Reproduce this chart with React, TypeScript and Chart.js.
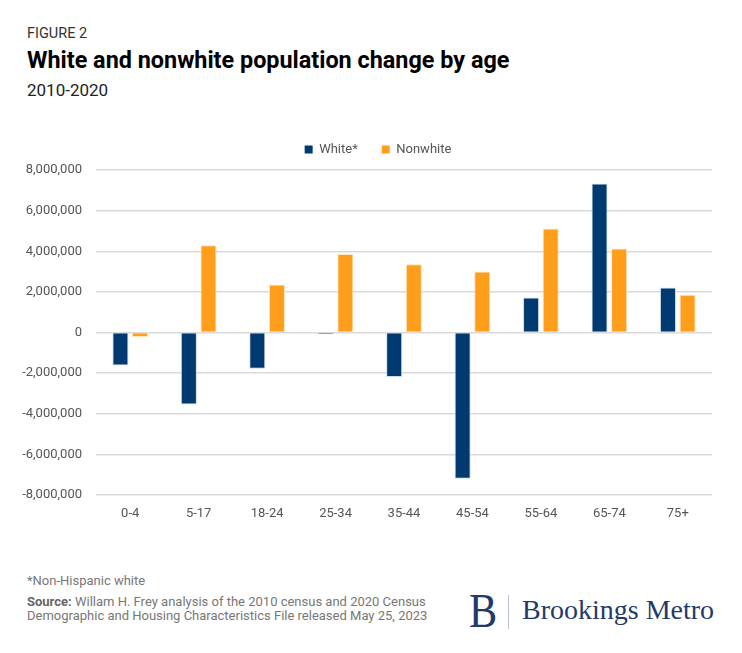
import React, { useEffect, useRef } from "react";
import { Chart, registerables } from "chart.js";

Chart.register(...registerables);

const categories = ["0-4", "5-17", "18-24", "25-34", "35-44", "45-54", "55-64", "65-74", "75+"];
const whiteValues = [-1630000, -3550000, -1780000, -90000, -2190000, -7200000, 1720000, 7340000, 2220000];
const nonwhiteValues = [-220000, 4290000, 2360000, 3860000, 3360000, 3000000, 5120000, 4140000, 1860000];
const seriesNames = ["White*", "Nonwhite"];
const yMin = -8000000;
const yMax = 8000000;
const yStep = 2000000;

const NAVY = "#003A70";
const ORANGE = "#FF9E1B";
const FONT = "Roboto";

const legendSpacer = {
  id: "legendSpacer",
  afterInit(chart: any) {
    const legend = chart.legend;
    if (!legend) return;
    const origFit = legend.fit;
    legend.fit = function () {
      origFit.call(this);
      this.height += 4;
    };
    const origDraw = legend.draw;
    legend.draw = function () {
      this.left += 22;
      this.right += 22;
      origDraw.call(this);
      this.left -= 22;
      this.right -= 22;
    };
  },
};

export default function App() {
  const canvasRef = useRef<HTMLCanvasElement | null>(null);

  useEffect(() => {
    const canvas = canvasRef.current;
    if (!canvas) return;
    const chart = new Chart(canvas, {
      type: "bar",
      data: {
        labels: categories,
        datasets: [
          {
            label: seriesNames[0],
            data: whiteValues,
            backgroundColor: NAVY,
            borderColor: "rgba(200,215,230,0.9)",
            borderWidth: 1,
            categoryPercentage: 0.573,
            barPercentage: 0.82,
          },
          {
            label: seriesNames[1],
            data: nonwhiteValues,
            backgroundColor: ORANGE,
            borderColor: "rgba(255,225,180,0.9)",
            borderWidth: 1,
            categoryPercentage: 0.573,
            barPercentage: 0.82,
          },
        ],
      },
      plugins: [legendSpacer],
      options: {
        animation: false,
        responsive: false,
        maintainAspectRatio: false,
        layout: { padding: { top: 7, right: 30, left: 0, bottom: 0 } },
        plugins: {
          tooltip: { enabled: false },
          legend: {
            position: "top",
            labels: {
              boxWidth: 8,
              boxHeight: 8,
              padding: 24,
              color: "#555555",
              font: { family: FONT, size: 13 },
              generateLabels: (ch: any) =>
                ch.data.datasets.map((ds: any, i: number) => ({
                  text: ds.label,
                  fillStyle: ds.backgroundColor,
                  strokeStyle: ds.backgroundColor,
                  lineWidth: 0,
                  fontColor: "#555555",
                  hidden: false,
                  datasetIndex: i,
                })),
            },
          },
        },
        scales: {
          x: {
            grid: { display: false, drawTicks: false },
            border: { display: false },
            ticks: {
              color: "#555555",
              font: { family: FONT, size: 13 },
              padding: 11,
              maxRotation: 0,
            },
            afterFit: (scale: any) => {
              scale.height = 40;
            },
          },
          y: {
            min: yMin,
            max: yMax,
            grid: { color: "#d9d9d9", lineWidth: 1.5, drawTicks: false },
            border: { display: false },
            ticks: {
              stepSize: yStep,
              color: "#555555",
              font: { family: FONT, size: 13 },
              padding: 14,
              callback: (v: any) => Number(v).toLocaleString("en-US"),
            },
            afterFit: (scale: any) => {
              scale.width = 96;
            },
          },
        },
      },
    });
    return () => chart.destroy();
  }, []);

  const abs = (top: number, left: number, extra: React.CSSProperties = {}): React.CSSProperties => ({
    position: "absolute",
    top,
    left,
    margin: 0,
    whiteSpace: "nowrap",
    ...extra,
  });

  return (
    <div
      style={{
        position: "absolute",
        top: 0,
        left: 0,
        width: 742,
        height: 653,
        background: "#ffffff",
        overflow: "hidden",
        fontFamily: FONT,
      }}
    >
      <div style={abs(27.4, 27, { fontSize: 14.5, lineHeight: 1, color: "#333333" })}>FIGURE 2</div>
      <div style={abs(48.7, 27, { fontSize: 23.4, lineHeight: 1, fontWeight: 700, color: "#000000" })}>
        White and nonwhite population change by age
      </div>
      <div style={abs(81.8, 27, { fontSize: 17, lineHeight: 1, color: "#222222" })}>2010-2020</div>

      <canvas ref={canvasRef} width={742} height={423} style={{ position: "absolute", top: 112, left: 0 }} />

      <div style={abs(574.3, 27, { fontSize: 13, lineHeight: 1, color: "#777777" })}>*Non-Hispanic white</div>
      <div style={abs(594.9, 27, { fontSize: 13, lineHeight: "14.5px", color: "#777777" })}>
        <span style={{ fontWeight: 700, color: "#666666" }}>Source:</span> Willam H. Frey analysis of the 2010 census and 2020 Census
        <br />
        Demographic and Housing Characteristics File released May 25, 2023
      </div>

      <div
        style={abs(586.6, 469, {
          fontFamily: "'Liberation Serif', serif",
          fontSize: 48,
          lineHeight: 1,
          color: "#1F3A6B",
          transform: "scaleX(0.88)",
          transformOrigin: "left top",
        })}
      >
        B
      </div>
      <div style={{ position: "absolute", top: 595, left: 508, width: 1, height: 34, background: "#b8c0cc" }} />
      <div
        style={abs(595.8, 522, {
          fontFamily: "'Liberation Serif', serif",
          fontSize: 28,
          lineHeight: 1,
          color: "#1F3A6B",
        })}
      >
        Brookings Metro
      </div>
    </div>
  );
}
